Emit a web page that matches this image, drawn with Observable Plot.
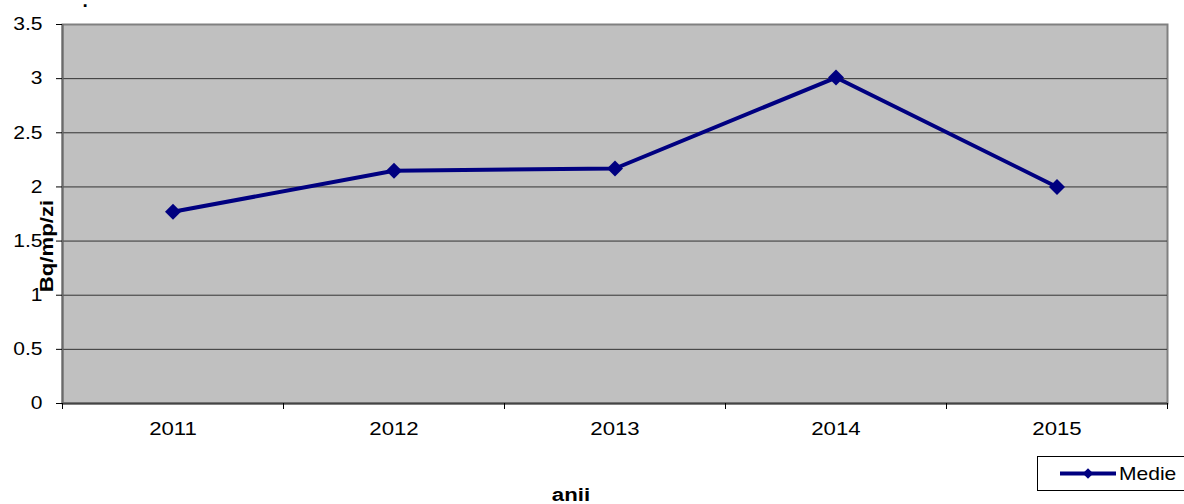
<!DOCTYPE html>
<html>
<head>
<meta charset="utf-8">
<script src="https://cdn.jsdelivr.net/npm/d3@7"></script>
<script src="https://cdn.jsdelivr.net/npm/@observablehq/plot@0.6"></script>
<style>
  html, body { margin: 0; padding: 0; background: #fff; }
  #chart { width: 1184px; height: 504px; overflow: hidden; }
</style>
</head>
<body>
<div id="chart"></div>
<script>
const years = ["2011", "2012", "2013", "2014", "2015"];
const values = [1.77, 2.15, 2.17, 3.01, 2.00];
const yTicks = [0, 0.5, 1, 1.5, 2, 2.5, 3, 3.5];
const yTickLabels = ["0", "0.5", "1", "1.5", "2", "2.5", "3", "3.5"];
const seriesName = "Medie";
const xTitle = "anii";
const yTitle = "Bq/mp/zi";

const data = years.map((yr, i) => ({ idx: i + 1, year: yr, value: values[i] }));
const xPositions = years.map((_, i) => i + 1);
const xBounds = [0.5, ...xPositions.map(p => p + 0.5)];
const gridValues = yTicks.filter(v => v > 0 && v < 3.5);

const NAVY = "#000080";

function legendMark() {
  return (index, scales, values, dims) => {
    const g = d3.create("svg:g");
    g.append("rect").attr("x", 1037.5).attr("y", 456.5).attr("width", 160).attr("height", 34)
      .attr("fill", "#fff").attr("stroke", "#000").attr("stroke-width", 1);
    g.append("line").attr("x1", 1060).attr("x2", 1116).attr("y1", 473.5).attr("y2", 473.5)
      .attr("stroke", NAVY).attr("stroke-width", 4);
    g.append("path").attr("d", d3.symbol(d3.symbolDiamond2, 70)()).attr("transform", "translate(1088,473.5)")
      .attr("fill", NAVY);
    g.append("text").attr("x", 1119).attr("y", 480).attr("font-size", 18).attr("fill", "#000")
      .attr("text-anchor", "start").text(seriesName);
    return g.node();
  };
}

const plot = Plot.plot({
  width: 1184,
  height: 504,
  marginLeft: 62,
  marginRight: 17,
  marginTop: 24,
  marginBottom: 101,
  style: { fontFamily: "Liberation Sans, Arial, sans-serif", fontSize: "18px", color: "#000", background: "#fff", overflow: "visible" },
  x: { type: "linear", domain: [0.5, 5.5] },
  y: { domain: [0, 3.5] },
  marks: [
    Plot.frame({ fill: "#c0c0c0", stroke: "#808080", strokeWidth: 2 }),
    Plot.ruleY(gridValues, { stroke: "#333", strokeWidth: 1 }),
    Plot.ruleY([0], { stroke: "#444", strokeWidth: 2 }),
    Plot.ruleX([0.5], { stroke: "#6a6a6a", strokeWidth: 2 }),
    Plot.axisY({ ticks: yTicks, tickSize: 6, tickPadding: 14, tickFormat: (d) => yTickLabels[yTicks.indexOf(d)], label: null, fontSize: 18, stroke: "#000" }),
    Plot.axisX({ ticks: xBounds, tickSize: 6, tickFormat: () => "", label: null, stroke: "#000" }),
    Plot.axisX({ ticks: xPositions, tickSize: 0, tickPadding: 18, tickFormat: (d) => years[d - 1], label: null, fontSize: 19 }),
    Plot.line(data, { x: "idx", y: "value", stroke: NAVY, strokeWidth: 4, strokeLinejoin: "miter" }),
    Plot.dot(data, { x: "idx", y: "value", symbol: "diamond2", r: 7.2, fill: NAVY, stroke: "none" }),
    Plot.text([yTitle], { frameAnchor: "left", textAnchor: "middle", dx: -16, dy: 32, rotate: -90, fontWeight: "bold", fontSize: 19, fill: "#000" }),
    Plot.text([xTitle], { frameAnchor: "bottom", lineAnchor: "bottom", dx: -44, dy: 97, fontWeight: "bold", fontSize: 19, fill: "#000" }),
    Plot.text(["."], { frameAnchor: "top-left", lineAnchor: "bottom", dx: 20, dy: -18, fontWeight: "bold", fontSize: 19, fill: "#000" }),
    legendMark()
  ]
});

document.getElementById("chart").appendChild(plot);

// Stretch glyphs along the text direction (reference text renders wide)
const STRETCH = 1.17;
d3.select(plot).selectAll("text").each(function () {
  const t = this;
  const txt = t.textContent;
  if (!txt || txt.trim() === "" || txt === ".") return;
  const bb = t.getBBox();
  if (!bb.width) return;
  const anchor = getComputedStyle(t).textAnchor;
  const ax = anchor === "end" ? bb.x + bb.width : anchor === "middle" ? bb.x + bb.width / 2 : bb.x;
  const prev = t.getAttribute("transform") || "";
  t.setAttribute("transform", `${prev} translate(${ax},0) scale(${STRETCH},1) translate(${-ax},0)`.trim());
});
</script>
</body>
</html>
